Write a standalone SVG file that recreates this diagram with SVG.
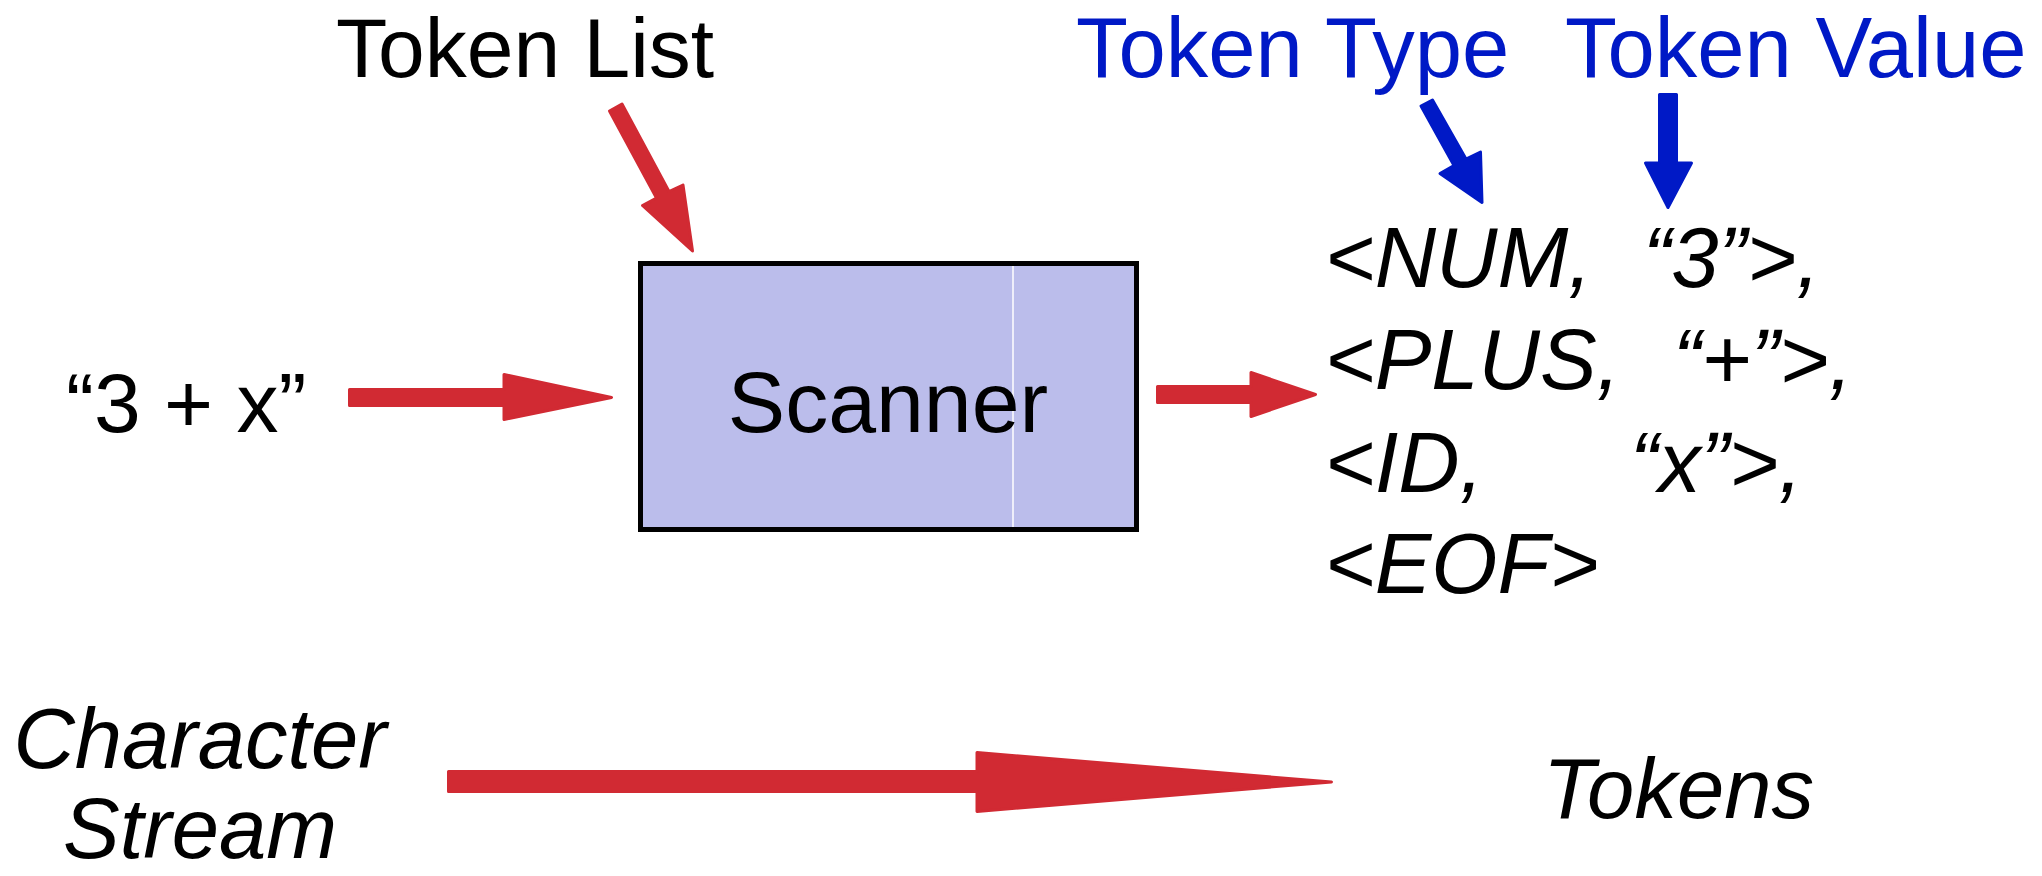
<svg xmlns="http://www.w3.org/2000/svg" width="2042" height="876" viewBox="0 0 2042 876">
<style>
text{font-family:"Liberation Sans",Arial,sans-serif;font-size:85px;fill:#000}
.it{font-style:italic}
.blue{fill:#0019C6}
.red{fill:#D12A33;stroke:#D12A33;stroke-width:3;stroke-linejoin:round}
.barrow{fill:#0019C6;stroke:#0019C6;stroke-width:3;stroke-linejoin:round}
</style>
<rect width="2042" height="876" fill="#fff"/>
<g id="scanner">
<rect x="640.5" y="263.5" width="496" height="266" fill="#BBBDEB" stroke="#000" stroke-width="5"/>
<line x1="1013" y1="266" x2="1013" y2="527" stroke="#fff" stroke-width="1.5"/>
<text x="888" y="432" text-anchor="middle" style="font-size:86px">Scanner</text>
</g>
<g id="token-list-label"><text x="336" y="77" style="font-size:84px">Token List</text></g>
<g id="input-string"><text x="66" y="432" style="font-size:84px">“3 + x”</text></g>
<g id="token-type-label"><text class="blue" x="1076" y="77">Token Type</text></g>
<g id="token-value-label"><text class="blue" x="1565" y="77">Token Value</text></g>
<g id="token-output">
<text class="it" x="1325" y="287">&lt;NUM,</text>
<text class="it" x="1643" y="287">“3”&gt;,</text>
<text class="it" x="1325" y="389">&lt;PLUS,</text>
<text class="it" x="1673" y="389">“+”&gt;,</text>
<text class="it" x="1325" y="492">&lt;ID,</text>
<text class="it" x="1630" y="492">“x”&gt;,</text>
<text class="it" x="1325" y="593">&lt;EOF&gt;</text>
</g>
<g id="character-stream-label">
<text class="it" x="200" y="768" text-anchor="middle">Character</text>
<text class="it" x="200" y="858" text-anchor="middle">Stream</text>
</g>
<g id="tokens-label"><text class="it" x="1543" y="818">Tokens</text></g>
<g id="connectors">
<polygon class="red" points="609.5,111 656.5,198 642.5,205.5 692.5,251 683,185 669,191.5 622,104"/>
<polygon class="red" points="349.5,389.5 504,389.5 504,374.5 611.5,397.5 504,419.5 504,405.5 349.5,405.5"/>
<polygon class="red" points="1157.5,386.5 1251,386.5 1251,372.5 1315.5,394.5 1251,416.5 1251,402.5 1157.5,402.5"/>
<polygon class="red" points="448.5,771.5 977,771.5 977,752.5 1331.5,782 977,811.5 977,791.5 448.5,791.5"/>
<polygon class="barrow" points="1421,106 1454,165.5 1440,173.5 1482,202.5 1480.5,152 1466,159 1432.5,100"/>
<polygon class="barrow" points="1659.5,94.5 1676.5,94.5 1676.5,163 1691.5,163 1668,207.5 1645.5,163 1659.5,163"/>
</g>
</svg>
